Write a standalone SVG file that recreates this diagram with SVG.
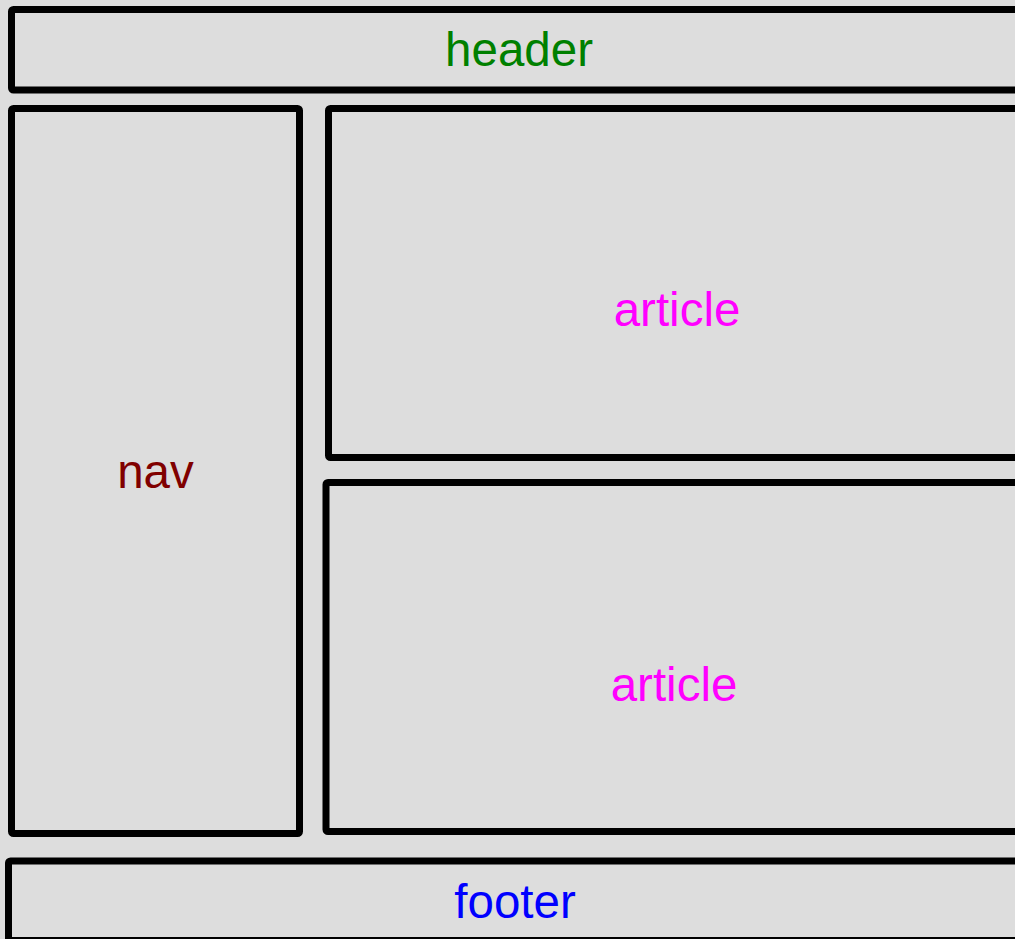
<svg xmlns="http://www.w3.org/2000/svg" width="1015" height="939" viewBox="0 0 1015 939">
<style>
.box{fill:#dddddd;stroke:#000;stroke-width:7;stroke-linejoin:round}
.lbl{font-family:"Liberation Sans",Arial,sans-serif;font-size:47.5px;text-anchor:middle}
</style>
<rect width="1015" height="939" fill="#dddddd"/>
<g id="header">
<rect class="box" x="11.5" y="9.5" width="1020" height="80.5" rx="2"/>
<text class="lbl" x="519" y="66" fill="#008000">header</text>
</g>
<g id="nav">
<rect class="box" x="11.5" y="108.5" width="288" height="725" rx="2"/>
<text class="lbl" x="155.5" y="488" fill="#800000">nav</text>
</g>
<g id="article1">
<rect class="box" x="328.5" y="108.5" width="700" height="349" rx="2"/>
<text class="lbl" x="677" y="326" fill="#ff00ff">article</text>
</g>
<g id="article2">
<rect class="box" x="326" y="482.5" width="700" height="349" rx="2"/>
<text class="lbl" x="674" y="701" fill="#ff00ff">article</text>
</g>
<g id="footer">
<rect class="box" x="8.5" y="861" width="1020" height="79.5" rx="2"/>
<text class="lbl" x="515" y="918" fill="#0000ff">footer</text>
</g>
<g id="connectors"></g>
</svg>
